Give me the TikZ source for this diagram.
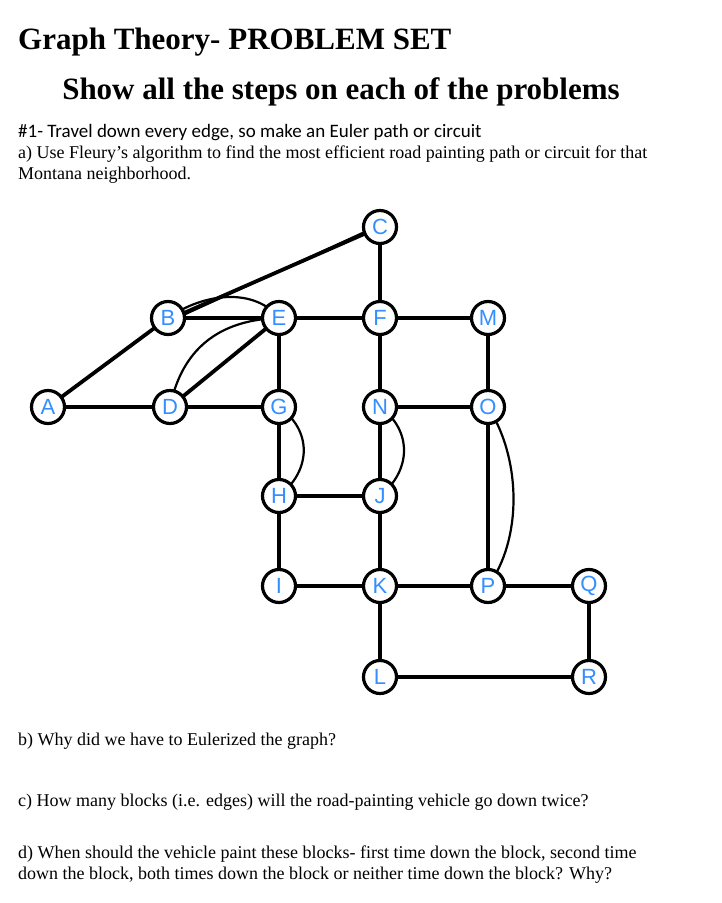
\documentclass[tikz,border=0pt]{standalone}
\usepackage{fontspec}
\setmainfont{Liberation Serif}
\newfontfamily\calfont{Carlito}
\newfontfamily\labfont{Liberation Sans}
\begin{document}
\begin{tikzpicture}[x=1pt,y=-1pt,
 v/.style={circle,draw,line width=3.2pt,fill=white,minimum size=33pt,inner sep=0pt,font=\labfont\fontsize{22}{22}\selectfont,text=blue!55!cyan!80!white},
 e/.style={line width=3.8pt},
 c/.style={line width=2.2pt},
 txt/.style={anchor=base west,inner sep=0pt,font=\fontsize{18}{18}\selectfont}]
\useasboundingbox (0,0) rectangle (721,903);
\node[anchor=base west,inner sep=0pt,font=\fontsize{31}{31}\selectfont\bfseries] (t1) at (18,49) {Graph Theory- PROBLEM SET};
\node[anchor=base,inner sep=0pt,font=\fontsize{31}{31}\selectfont\bfseries] (t2) at (341,99) {Show all the steps on each of the problems};
\node[txt,font=\calfont\fontsize{19}{19}\selectfont] (p1) at (18,137) {\#1- Travel down every edge, so make an Euler path or circuit};
\node[txt] (p2) at (18,158) {a) Use Fleury’s algorithm to find the most efficient road painting path or circuit for that};
\node[txt] (p3) at (18,179) {Montana neighborhood.};
\node[txt] (p4) at (18,745) {b) Why did we have to Eulerized the graph?};
\node[txt] (p5) at (18,806) {c) How many blocks (i.e. edges) will the road-painting vehicle go down twice?};
\node[txt] (p6) at (18,858) {d) When should the vehicle paint these blocks- first time down the block, second time};
\node[txt] (p7) at (18,879) {down the block, both times down the block or neither time down the block? Why?};
\coordinate (A) at (48,407); \coordinate (B) at (168,318); \coordinate (C) at (380,227);
\coordinate (D) at (170,407); \coordinate (E) at (279,318); \coordinate (F) at (380,318);
\coordinate (M) at (488,318); \coordinate (G) at (279,407); \coordinate (N) at (380,407);
\coordinate (O) at (488,407); \coordinate (H) at (279,496); \coordinate (J) at (380,496);
\coordinate (I) at (279,586); \coordinate (K) at (380,586); \coordinate (P) at (488,586);
\coordinate (Q) at (589,586); \coordinate (L) at (380,677); \coordinate (R) at (589,677);
\draw[e] (A)--(B) (A)--(D) (B)--(E) (D)--(E) (D)--(G) (E)--(G) (E)--(F) (C)--(F) (F)--(M) (F)--(N)
 (M)--(O) (N)--(O) (G)--(H) (H)--(J) (N)--(J) (H)--(I) (J)--(K) (I)--(K) (K)--(P) (O)--(P)
 (P)--(Q) (Q)--(R) (K)--(L) (L)--(R);
\draw[e] ([yshift=-2]B)--(C);
\draw[c] ([yshift=-4]B)--([yshift=2]C);
\draw[c] (B) .. controls (205,292) and (255,288) .. (E);
\draw[c] (D) .. controls (180,358) and (210,320) .. (E);
\draw[c] (G) .. controls (312,430) and (312,470) .. (H);
\draw[c] (N) .. controls (412,430) and (412,470) .. (J);
\draw[c] (O) .. controls (522,460) and (522,540) .. (P);
\foreach \n in {A,B,C,D,E,F,M,G,N,O,H,J,I,K,P,Q,L,R} \node[v] (n\n) at (\n) {\n};
\end{tikzpicture}
\end{document}
